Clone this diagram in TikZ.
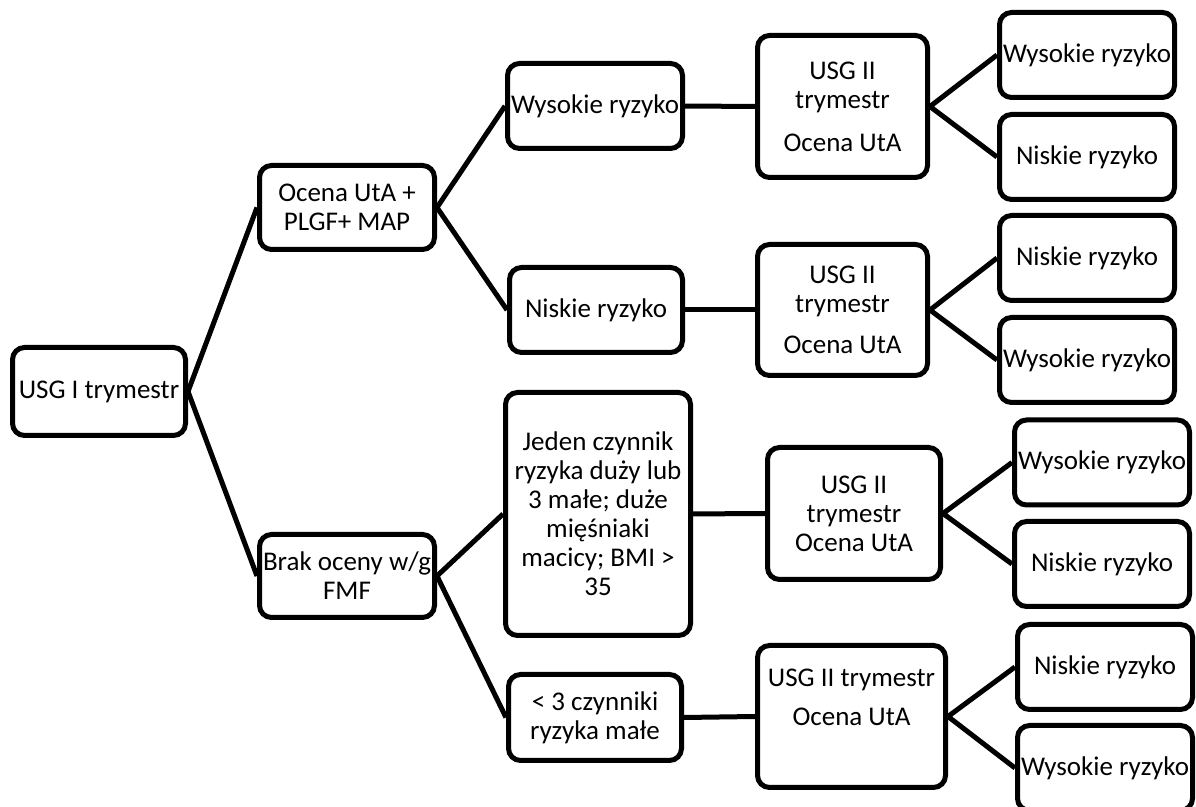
\documentclass[tikz,border=0pt]{standalone}
\usepackage{fontspec}
\setmainfont{Carlito}
\usepackage{tikz}
\tikzset{box/.style={draw, line width=2.5pt, rounded corners=6pt, fill=white,
    align=center, inner sep=0pt, minimum width=87.5pt, minimum height=42.5pt},
  link/.style={line width=2.5pt}}

\begin{document}
\begin{tikzpicture}[x=0.5pt, y=-0.5pt, font=\fontsize{13.5}{14.5}\selectfont]
            \useasboundingbox (0,0) rectangle (1196,807);

            \node[box, minimum width=86.5pt, minimum height=44pt] (usga) at (99,391.5) {USG I trymestr};

            \node[box, minimum height=42pt] (ocena) at (347,207.5) {Ocena UtA +\\PLGF+ MAP};
            \node[box, minimum height=41.5pt] (brak) at (347,576) {Brak oceny w/g\\FMF};

            \node[box] (wys) at (595,106) {Wysokie ryzyko};
            \node[box, minimum width=86.5pt] (nis) at (596,310) {Niskie ryzyko};
            \node[box, minimum width=92.5pt, minimum height=121.5pt] (jeden) at (598,514)
                {Jeden czynnik\\ryzyka duży lub\\3 małe; duże\\mięśniaki\\macicy; BMI >\\35};
            \node[box, minimum width=86.5pt, minimum height=43pt] (mniej) at (595,717.5) {< 3 czynniki\\ryzyka małe};

            \node[box, minimum width=85pt, minimum height=71pt] (usgb) at (842.5,106.5) {USG II\\trymestr\\[7pt]Ocena UtA};
            \node[box, minimum width=85pt, minimum height=65.5pt] (usgc) at (842.5,310) {USG II\\trymestr\\[6pt]Ocena UtA};
            \node[box, minimum width=86.5pt, minimum height=66pt] (usgd) at (854,513.5) {USG II\\trymestr\\Ocena UtA};
            \node[box, minimum width=94pt, minimum height=71pt] (usge) at (851.5,716.5) {USG II trymestr\\[5pt]Ocena UtA\\\strut};

            \node[box] (r1) at (1087,55) {Wysokie ryzyko};
            \node[box] (r2) at (1087,157) {Niskie ryzyko};
            \node[box] (r3) at (1087,258) {Niskie ryzyko};
            \node[box] (r4) at (1087,360) {Wysokie ryzyko};
            \node[box] (r5) at (1102,462.5) {Wysokie ryzyko};
            \node[box] (r6) at (1102,564) {Niskie ryzyko};
            \node[box] (r7) at (1105,667) {Niskie ryzyko};
            \node[box] (r8) at (1105,768) {Wysokie ryzyko};

            \draw[link] (ocena.west) -- (usga.east) -- (brak.west);
            \draw[link] (wys.west) -- (ocena.east) -- (nis.west);
            \draw[link] (jeden.west) -- (brak.east) -- (mniej.west);
            \draw[link] (wys) -- (usgb);
            \draw[link] (nis) -- (usgc);
            \draw[link] (jeden) -- (usgd);
            \draw[link] (mniej.east) -- (usge.west);
            \draw[link] (r1.west) -- (usgb.east) -- (r2.west);
            \draw[link] (r3.west) -- (usgc.east) -- (r4.west);
            \draw[link] (r5.west) -- (usgd.east) -- (r6.west);
            \draw[link] (r7.west) -- (usge.east) -- (r8.west);

        \end{tikzpicture}
\end{document}
